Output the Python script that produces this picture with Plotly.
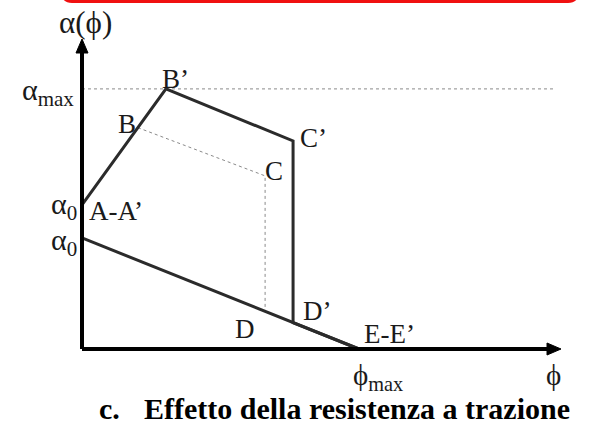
import plotly.graph_objects as go

# Characteristic points (phi, alpha) of the interaction curves
# with tensile strength: A' -> B' -> C' -> D' -> E'
phi_tension = [0.0, 0.303, 0.762, 0.762, 1.0]
alpha_tension = [0.520, 0.939, 0.751, 0.0952, 0.0]

# without tensile strength: alpha0 -> E (straight decay)
phi_base = [0.0, 1.0]
alpha_base = [0.401, 0.0]

# dotted reference path B -> C -> D
phi_dotted = [0.202, 0.661, 0.661]
alpha_dotted = [0.799, 0.625, 0.136]

alpha_max = 0.939
phi_max = 1.0

W, H = 599, 430
PX = 1 / 277.0          # data units per screen pixel (same on both axes)
X0, Y0 = 82, 349        # screen position of the origin

x_range = [-X0 * PX, (W - X0) * PX]
y_range = [-(H - Y0) * PX, Y0 * PX]

SERIF = "Liberation Serif, Times New Roman, DejaVu Serif, serif"
INK = "#1a1a1a"
LINE = "#2b2b2b"
DOT = "#8a8a8a"
PHI = "\u03d5"
ALPHA = "\u03b1"

fig = go.Figure()

# alpha_max guide line
x_guide_end = (553 - X0) * PX
fig.add_trace(go.Scatter(x=[0, x_guide_end], y=[alpha_max, alpha_max], mode="lines",
                         line=dict(color=DOT, width=1, dash="dot"), hoverinfo="skip"))
# B - C - D dotted path
fig.add_trace(go.Scatter(x=phi_dotted, y=alpha_dotted, mode="lines",
                         line=dict(color=DOT, width=1, dash="dot"), hoverinfo="skip"))
# base line alpha0 -> E
fig.add_trace(go.Scatter(x=phi_base, y=alpha_base, mode="lines",
                         line=dict(color=LINE, width=3), hoverinfo="skip"))
# curve with tensile strength
fig.add_trace(go.Scatter(x=phi_tension, y=alpha_tension, mode="lines",
                         line=dict(color=LINE, width=3), hoverinfo="skip"))

# axes with arrow heads
x_tip = (561 - X0) * PX
y_tip = (Y0 - 39) * PX
head_len, head_half = 14 * PX, 6 * PX
shapes = [
    dict(type="line", x0=0, y0=0, x1=x_tip - head_len, y1=0,
         line=dict(color="black", width=4)),
    dict(type="line", x0=0, y0=0, x1=0, y1=y_tip - head_len,
         line=dict(color="black", width=4)),
    dict(type="path",
         path=f"M {x_tip} 0 L {x_tip - head_len} {head_half} L {x_tip - head_len} {-head_half} Z",
         fillcolor="black", line=dict(color="black", width=1)),
    dict(type="path",
         path=f"M 0 {y_tip} L {head_half} {y_tip - head_len} L {-head_half} {y_tip - head_len} Z",
         fillcolor="black", line=dict(color="black", width=1)),
]

# red frame edge along the top border
def pp(x, y):
    return f"{x / W:.5f},{1 - y / H:.5f}"

shapes.append(dict(
    type="path", xref="paper", yref="paper",
    path=(f"M {pp(61, -14)} Q {pp(61, 1.5)} {pp(72, 1.5)} "
          f"L {pp(568, 1.5)} Q {pp(579, 1.5)} {pp(579, -14)}"),
    line=dict(color="#f01010", width=3)))

annotations = []

def label(text, x, y, dx, dy, xanchor="left", size=27):
    annotations.append(dict(
        x=x, y=y, xref="x", yref="y", text=text, showarrow=False,
        xanchor=xanchor, yanchor="middle", xshift=dx, yshift=dy,
        font=dict(family=SERIF, size=size, color=INK)))

A, Bp, Cp, Dp, E = list(zip(phi_tension, alpha_tension))
B, C, D = list(zip(phi_dotted, alpha_dotted))

label("B\u2019", *Bp, -6, 10)
label("B", *B, 0, 4, xanchor="right")
label("C\u2019", *Cp, 5, 3)
label("C", *C, -2, 5)
label("D\u2019", *Dp, 8, 12)
label("D", *D, -20, -18, xanchor="center")
label("E-E\u2019", *E, 3, 15)
label("A-A\u2019", *A, 5, -6)
label(f"{ALPHA}<sub>0</sub>", *A, -3, -1, xanchor="right", size=30)
label(f"{ALPHA}<sub>0</sub>", phi_base[0], alpha_base[0], -3, -4, xanchor="right", size=30)
label(f"{ALPHA}<sub>max</sub>", 0, alpha_max, -6, -3, xanchor="right", size=30)
label(f"{PHI}<sub>max</sub>", phi_max, 0, -8, -28, size=29)
label(PHI, x_guide_end, 0, 0, -26, xanchor="center", size=29)
label(f"{ALPHA}({PHI})", 0, y_tip, 3, 17, xanchor="center", size=31)

# caption
cap_y = 1 - 408 / H
annotations.append(dict(x=110 / W, y=cap_y, xref="paper", yref="paper",
                        text="<b>c.</b>", showarrow=False, xanchor="center", yanchor="middle",
                        font=dict(family=SERIF, size=30, color="black")))
annotations.append(dict(x=142 / W, y=cap_y, xref="paper", yref="paper",
                        text="<b>Effetto della resistenza a trazione</b>", showarrow=False,
                        xanchor="left", yanchor="middle",
                        font=dict(family=SERIF, size=30, color="black")))

fig.update_layout(
    width=W, height=H, margin=dict(l=0, r=0, t=0, b=0),
    paper_bgcolor="white", plot_bgcolor="white", showlegend=False,
    xaxis=dict(range=x_range, visible=False, fixedrange=True),
    yaxis=dict(range=y_range, visible=False, fixedrange=True),
    shapes=shapes, annotations=annotations,
)

fig.write_html("out.html")
